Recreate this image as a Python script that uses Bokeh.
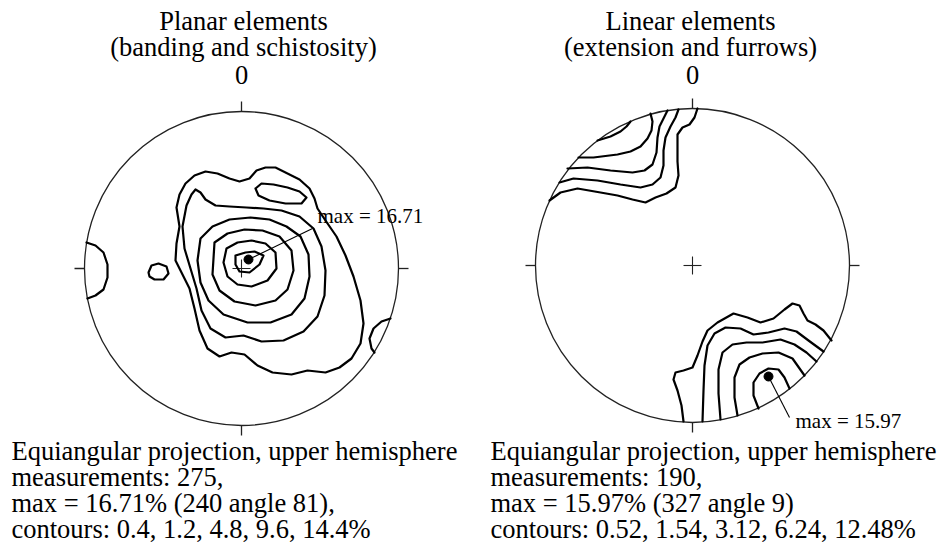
from bokeh.plotting import figure
from bokeh.layouts import row
from bokeh.models import Range1d, Label
from bokeh.embed import file_html
from bokeh.resources import INLINE

FONT = "Liberation Serif"
NET_R = 157  # net radius in projection units

# ---------------- data: planar elements ----------------
planar_title = ["Planar elements", "(banding and schistosity)"]
planar_notes = ["Equiangular projection, upper hemisphere",
                "measurements: 275,",
                "max = 16.71% (240 angle 81),",
                "contours: 0.4, 1.2, 4.8, 9.6, 14.4%"]
planar_max_value = 16.71
planar_max_point = (7, 9)

# closed contour loops (x east, y north, projection units)
planar_c1 = [(-65, 61), (-62, 74), (-56, 85), (-47, 93), (-36, 97), (-24, 95), (-12, 90), (-2, 87),
             (8, 90), (15, 98), (24, 101), (34, 101), (46, 95), (58, 89), (68, 80), (73, 70),
             (76, 60), (84, 48), (95, 32), (104, 13), (112, -8), (119, -32), (122, -55), (119, -75),
             (110, -90), (98, -99), (84, -104), (66, -102), (50, -106), (31, -104), (16, -97),
             (3, -86), (-10, -84), (-22, -88), (-34, -80), (-42, -62), (-47, -40), (-52, -20),
             (-59, -6), (-66, 8), (-65, 25), (-62, 42)]
planar_c1_lobe = [(14, 80), (20, 85), (32, 84), (46, 81), (58, 77), (65, 71), (60, 65), (44, 65),
                  (28, 68), (17, 73)]
planar_c1_west = [(-93, -4), (-90, 3), (-83, 5), (-75, 2), (-73, -5), (-78, -11), (-87, -11), (-92, -8)]
planar_c2 = [(-55, 63), (-50, 74), (-46, 79), (-41, 76), (-36, 69), (-26, 63), (-12, 62), (5, 61),
             (22, 60), (40, 58), (58, 52), (72, 40), (80, 22), (84, -2), (83, -27), (76, -48),
             (62, -63), (42, -72), (20, -73), (2, -67), (-16, -69), (-31, -60), (-40, -42),
             (-45, -20), (-51, 0), (-57, 20), (-59, 42)]
planar_c3 = [(-41, 30), (-29, 42), (-12, 49), (9, 51), (28, 49), (45, 42), (59, 32), (67, 14),
             (68, -8), (63, -30), (50, -46), (29, -54), (6, -54), (-18, -46), (-33, -32),
             (-41, -14), (-44, 8)]
planar_c4 = [(-27, 26), (-14, 35), (3, 39), (21, 38), (38, 32), (50, 18), (52, -2), (46, -21),
             (34, -32), (14, -37), (-7, -33), (-22, -22), (-29, -6)]
planar_c5 = [(-15, 20), (-4, 26), (10, 28), (24, 25), (34, 16), (35, 0), (26, -12), (10, -18),
             (-4, -16), (-14, -8), (-18, 6)]
planar_c6 = [(-6, 13), (4, 16), (13, 17), (22, 13), (18, 4), (8, -4), (-2, -3), (-6, 4)]
# open contours ending on the primitive circle
planar_edge_w = [(-155, 26), (-146, 23), (-138, 16), (-134, 4), (-134, -9), (-138, -21), (-146, -27),
                 (-154, -30)]
planar_edge_se = [(149, -50), (140, -53), (132, -60), (128, -70), (130, -80), (133, -84)]

# ---------------- data: linear elements ----------------
linear_title = ["Linear elements", "(extension and furrows)"]
linear_notes = ["Equiangular projection, upper hemisphere",
                "measurements: 190,",
                "max = 15.97% (327 angle 9)",
                "contours: 0.52, 1.54, 3.12, 6.24, 12.48%"]
linear_max_value = 15.97
linear_max_point = (76, -111)

linear_nw = [
    [(-62, 144), (-66, 139), (-72, 134), (-82, 129), (-95, 125)],
    [(-42, 152), (-40, 144), (-41, 135), (-45, 127), (-52, 119), (-62, 114), (-75, 111), (-99, 108), (-114, 108)],
    [(-25, 155), (-29, 147), (-33, 139), (-35, 128), (-36, 113), (-40, 101), (-48, 95), (-60, 93),
     (-82, 95), (-105, 98), (-125, 97)],
    [(-14, 156), (-17, 148), (-22, 139), (-27, 128), (-29, 115), (-29, 100), (-32, 88), (-40, 81),
     (-52, 78), (-72, 81), (-95, 85), (-119, 87), (-133, 83)],
    [(5, 157), (2, 148), (-3, 141), (-10, 138), (-15, 131), (-15, 118), (-15, 104), (-14, 90),
     (-17, 78), (-26, 72), (-37, 68), (-47, 63), (-60, 66), (-75, 70), (-92, 73), (-115, 77),
     (-132, 73), (-143, 65)],
]
linear_se = [
    [(-9, -156), (-11, -140), (-15, -125), (-19, -114), (-17, -107), (-9, -105), (0, -102), (5, -90),
     (10, -76), (15, -65), (25, -57), (41, -48), (55, -52), (68, -57), (81, -53), (92, -44),
     (100, -38), (107, -40), (111, -48), (115, -55), (123, -59), (131, -65), (139, -75)],
    [(10, -156), (11, -125), (12, -100), (15, -80), (22, -68), (33, -62), (48, -63), (61, -69),
     (76, -67), (92, -63), (104, -66), (116, -75), (131, -86)],
    [(28, -154), (26, -128), (26, -104), (30, -87), (40, -79), (54, -77), (70, -77), (88, -74),
     (102, -79), (114, -87), (124, -96)],
    [(45, -150), (42, -132), (42, -112), (47, -99), (57, -92), (70, -88), (86, -87), (100, -93),
     (112, -110)],
    [(66, -143), (61, -130), (61, -117), (67, -108), (76, -103), (86, -104), (92, -112), (97, -123)],
]

BIG = "26.5px"
SMALL = "21px"


def make_net(width, height, cx, cy):
    p = figure(width=width, height=height, output_backend="svg", toolbar_location=None,
               x_range=Range1d(-cx, width - cx), y_range=Range1d(cy - height, cy),
               x_axis_type=None, y_axis_type=None, min_border=0,
               outline_line_color=None, background_fill_color="white",
               border_fill_color="white")
    p.grid.visible = False
    R = NET_R
    p.circle(x=[0], y=[0], radius=R, fill_color=None, line_color="#222222", line_width=1.3)
    t = 10
    p.segment(x0=[0, 0, R, -R], y0=[R, -R, 0, 0], x1=[0, 0, R + t, -R - t], y1=[R + t, -R - t, 0, 0],
              line_color="#222222", line_width=1.3)
    a = 9
    p.segment(x0=[-a, 0], y0=[0, -a], x1=[a, 0], y1=[0, a], line_color="#222222", line_width=1.1)
    return p


def draw_line(p, pts, closed=False):
    xs = [q[0] for q in pts]
    ys = [q[1] for q in pts]
    if closed:
        xs.append(xs[0])
        ys.append(ys[0])
    p.line(xs, ys, line_color="black", line_width=2.2, line_join="round", line_cap="round")


def add_text(p, x, y, text, size=BIG, align="left"):
    p.add_layout(Label(x=x, y=y, text=text, text_font=FONT, text_font_size=size,
                       text_align=align, text_baseline="middle", text_color="black"))


# ---------------- left net ----------------
p1 = make_net(470, 550, 241, 268)
for c in [planar_c1, planar_c1_lobe, planar_c1_west, planar_c2, planar_c3, planar_c4, planar_c5, planar_c6]:
    draw_line(p1, c, closed=True)
for c in [planar_edge_w, planar_edge_se]:
    draw_line(p1, c)
p1.segment(x0=[planar_max_point[0]], y0=[planar_max_point[1]], x1=[71], y1=[40],
           line_color="black", line_width=1.1)
p1.scatter(x=[planar_max_point[0]], y=[planar_max_point[1]], size=9, color="black")
add_text(p1, 76, 53, f"max = {planar_max_value}", size=SMALL)
add_text(p1, 2, 248, planar_title[0], align="center")
add_text(p1, 2, 222, planar_title[1], align="center")
add_text(p1, 0, 194, "0", align="center")
for i, line in enumerate(planar_notes):
    add_text(p1, -230, -182 - 26 * i, line)

# ---------------- right net ----------------
p2 = make_net(470, 550, 222, 265)
for c in linear_nw + linear_se:
    draw_line(p2, c)
p2.segment(x0=[linear_max_point[0]], y0=[linear_max_point[1]], x1=[97], y1=[-152],
           line_color="black", line_width=1.1)
p2.scatter(x=[linear_max_point[0]], y=[linear_max_point[1]], size=9, color="black")
add_text(p2, 103, -155, f"max = {linear_max_value}", size=SMALL)
add_text(p2, -2, 245, linear_title[0], align="center")
add_text(p2, -2, 219, linear_title[1], align="center")
add_text(p2, 0, 191, "0", align="center")
for i, line in enumerate(linear_notes):
    add_text(p2, -202, -185 - 26 * i, line)

layout = row(p1, p2)
open("out.html", "w").write(file_html(layout, INLINE))
